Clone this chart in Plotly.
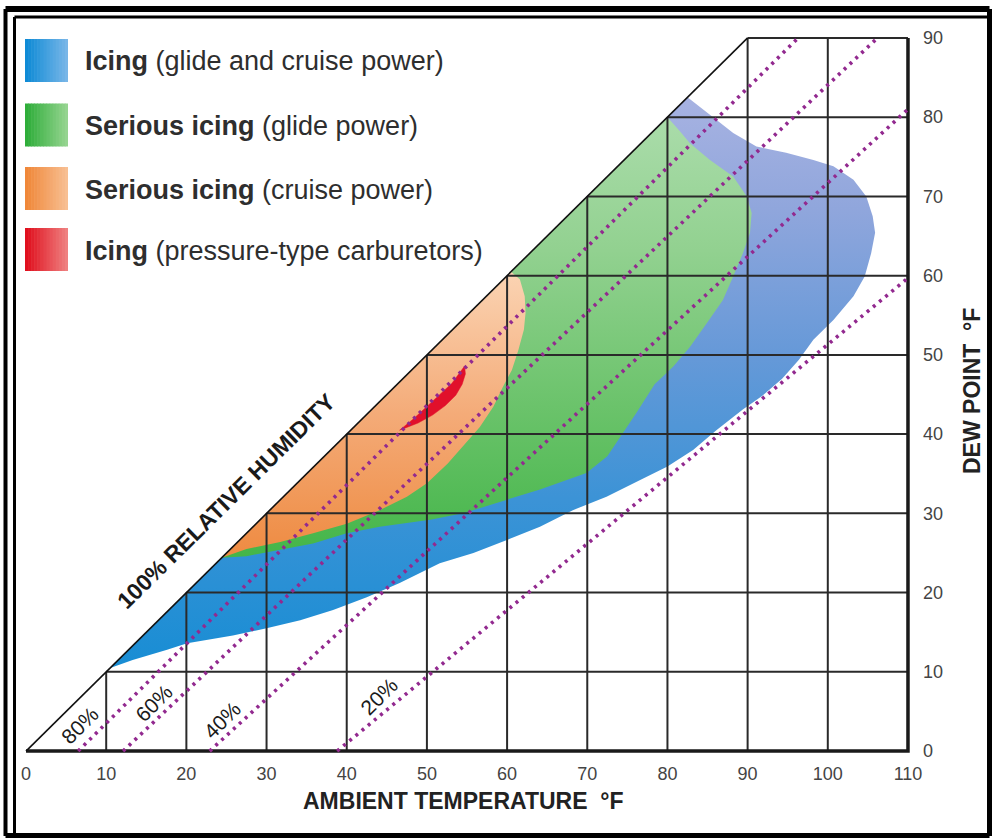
import plotly.graph_objects as go

# ---------------- data ----------------
x_ticks = list(range(0, 111, 10))
y_ticks = list(range(0, 91, 10))

# relative-humidity dotted lines (endpoints)
rh_labels = ["80%", "60%", "40%", "20%"]
rh_x = [[6.5, 96.3], [12.1, 106.2], [22.9, 110.0], [38.8, 110.0]]
rh_y = [[0.0, 90.0], [0.0, 90.0], [0.0, 81.0], [0.0, 59.7]]
rh_label_x = [6.7, 15.9, 24.4, 44.0]
rh_label_y = [3.2, 6.0, 3.9, 6.9]

# Icing (glide and cruise power)
blue_x = [10.5, 82.5, 85.3, 88.2, 91.1, 94.8, 98.2, 100.7, 103.2, 104.8, 105.6, 105.9,
          105.4, 104.6, 103.2, 100.7, 98.2, 96.4, 94.3, 91.8, 89.4, 86.1, 83.2, 80.0,
          76.6, 72.4, 68.2, 64.1, 59.9, 55.8, 51.6, 46.6, 42.5, 38.3, 34.2, 30.0, 25.8,
          20.1, 17.6, 13.3, 10.5]
blue_y = [10.5, 82.5, 80.3, 78.0, 76.3, 75.5, 74.6, 73.8, 72.1, 70.0, 67.5, 65.4,
          62.8, 59.9, 57.4, 54.4, 51.9, 49.4, 47.0, 44.8, 43.1, 40.5, 38.0, 35.9,
          34.2, 32.1, 30.4, 28.3, 26.6, 25.0, 23.7, 21.2, 19.4, 17.8, 16.5, 15.5, 14.6,
          13.6, 12.8, 11.5, 10.5]

# Serious icing (glide power)
green_x = [24.4, 80.0, 81.5, 82.8, 85.3, 88.2, 89.9, 90.5, 90.3, 89.4, 88.2, 86.9, 84.9,
           82.8, 80.7, 78.4, 76.2, 74.0, 72.5, 69.9, 64.1, 59.9, 54.5, 50.4, 44.1, 40.0,
           35.8, 31.7, 27.5, 24.4]
green_y = [24.4, 80.0, 78.3, 76.7, 74.6, 72.5, 70.0, 67.9, 65.4, 62.8, 59.9, 56.9, 54.0,
           51.0, 48.5, 46.3, 42.8, 39.5, 37.2, 35.1, 33.0, 31.7, 30.0, 29.2, 28.3, 27.5,
           26.2, 25.4, 24.6, 24.4]

# Serious icing (cruise power)
orange_x = [24.4, 60.5, 61.6, 62.2, 62.3, 62.1, 61.4, 60.6, 59.5, 58.3, 56.6, 54.7, 52.6,
            50.0, 47.5, 44.1, 40.0, 35.8, 31.7, 27.5, 24.4]
orange_y = [24.4, 60.5, 59.5, 57.4, 55.3, 53.2, 50.6, 48.1, 46.0, 43.5, 40.9, 38.7, 36.3,
            33.8, 32.1, 30.4, 28.7, 27.5, 26.4, 25.5, 24.4]

# Icing (pressure-type carburetors)
red_x = [46.6, 48.3, 49.9, 51.5, 53.1, 54.2, 54.7, 54.8, 54.4, 53.6, 52.3, 50.7, 48.9, 46.6]
red_y = [40.5, 41.9, 43.4, 44.9, 46.4, 47.9, 48.6, 47.6, 46.3, 44.9, 43.6, 42.4, 41.4, 40.5]

legend_bold = ["Icing", "Serious icing", "Serious icing", "Icing"]
legend_rest = ["(glide and cruise power)", "(glide power)", "(cruise power)",
               "(pressure-type carburetors)"]

# ---------------- layout geometry ----------------
FW, FH = 992, 839
ML, MR, MT, MB = 18, 76, 30, 80
PW, PH = FW - ML - MR, FH - MT - MB


def px(xp):
    return (xp - ML) / PW


def py(yp):
    return (FH - MB - yp) / PH


FONT = "Liberation Sans, Arial, Helvetica, sans-serif"

fig = go.Figure()

fig.add_trace(go.Scatter(
    x=blue_x, y=blue_y, mode="lines", fill="toself", line=dict(width=0),
    fillgradient=dict(type="vertical", start=10, stop=83,
                      colorscale=[[0, "#178dd4"], [0.3, "#3c93d6"], [0.55, "#6699d8"],
                                  [0.8, "#90a6dc"], [1, "#a8b3e2"]]),
    hoverinfo="skip", showlegend=False))
fig.add_trace(go.Scatter(
    x=green_x, y=green_y, mode="lines", fill="toself", line=dict(width=0),
    fillgradient=dict(type="vertical", start=24, stop=80,
                      colorscale=[[0, "#43b548"], [0.35, "#6bc36b"], [0.7, "#92d190"],
                                  [1, "#aadcaa"]]),
    hoverinfo="skip", showlegend=False))
fig.add_trace(go.Scatter(
    x=orange_x, y=orange_y, mode="lines", fill="toself", line=dict(width=0),
    fillgradient=dict(type="vertical", start=24, stop=61,
                      colorscale=[[0, "#ee8a40"], [0.5, "#f4ab78"], [1, "#fbd5b5"]]),
    hoverinfo="skip", showlegend=False))
fig.add_trace(go.Scatter(
    x=red_x, y=red_y, mode="lines", fill="toself", line=dict(width=0.5, color="#e1102b"),
    fillcolor="#e1102b", hoverinfo="skip", showlegend=False))

# grid lines (only below 100% RH line)
gx, gy = [], []
for yv in y_ticks[1:]:
    gx += [yv, x_ticks[-1], None]
    gy += [yv, yv, None]
for xv in x_ticks[1:-1]:
    gx += [xv, xv, None]
    gy += [0, min(xv, y_ticks[-1]), None]
fig.add_trace(go.Scatter(x=gx, y=gy, mode="lines", line=dict(color="#2a2a2a", width=2),
                         hoverinfo="skip", showlegend=False))
# heavy bottom and right border
fig.add_trace(go.Scatter(x=[x_ticks[0], x_ticks[-1], x_ticks[-1]],
                         y=[y_ticks[0], y_ticks[0], y_ticks[-1]], mode="lines",
                         line=dict(color="#1a1a1a", width=3.5),
                         hoverinfo="skip", showlegend=False))

# RH dotted lines
for xs, ys in zip(rh_x, rh_y):
    fig.add_trace(go.Scatter(x=xs, y=ys, mode="lines",
                             line=dict(color="#92298f", width=3.6, dash="3px,5px"),
                             hoverinfo="skip", showlegend=False))

# 100% RH diagonal
fig.add_trace(go.Scatter(x=[0, y_ticks[-1]], y=[0, y_ticks[-1]], mode="lines",
                         line=dict(color="#111111", width=1.6),
                         hoverinfo="skip", showlegend=False))

annotations = []
for lab, lx, ly in zip(rh_labels, rh_label_x, rh_label_y):
    annotations.append(dict(x=lx, y=ly, xref="x", yref="y", text=lab, showarrow=False,
                            xanchor="center", yanchor="middle",
                            textangle=-44.6, font=dict(family=FONT, size=21, color="#1a1a1a")))
annotations.append(dict(x=25.0, y=31.5, xref="x", yref="y",
                        text="<b>100% RELATIVE HUMIDITY</b>", showarrow=False,
                        xanchor="center", yanchor="middle",
                        textangle=-44.6, font=dict(family=FONT, size=23, color="#1a1a1a")))
annotations.append(dict(x=px(463), y=py(801), xref="paper", yref="paper",
                        xanchor="center", yanchor="middle",
                        text="<b>AMBIENT TEMPERATURE  °F</b>", showarrow=False,
                        font=dict(family=FONT, size=23, color="#222")))
annotations.append(dict(x=px(972), y=py(391), xref="paper", yref="paper",
                        xanchor="center", yanchor="middle",
                        text="<b>DEW POINT  °F</b>", showarrow=False, textangle=-90,
                        font=dict(family=FONT, size=23, color="#222")))

# legend (manual)
swatch_cols = [("#0f8bd6", "#78b6e8"), ("#2fae3a", "#95d490"),
               ("#f0883a", "#f8bf92"), ("#e0101e", "#ef8080")]
row_y = [60.5, 125, 188.5, 249.5]
shapes = []
NSTRIP = 14
for (c0, c1), ry in zip(swatch_cols, row_y):
    r0, g0, b0 = int(c0[1:3], 16), int(c0[3:5], 16), int(c0[5:7], 16)
    r1, g1, b1 = int(c1[1:3], 16), int(c1[3:5], 16), int(c1[5:7], 16)
    x0s, x1s = 25, 68
    for i in range(NSTRIP):
        t = i / (NSTRIP - 1)
        col = "rgb(%d,%d,%d)" % (r0 + (r1 - r0) * t, g0 + (g1 - g0) * t, b0 + (b1 - b0) * t)
        xa = x0s + (x1s - x0s) * i / NSTRIP
        xb = x0s + (x1s - x0s) * (i + 1) / NSTRIP + 0.6
        shapes.append(dict(type="rect", xref="paper", yref="paper",
                           x0=px(xa), x1=px(min(xb, x1s)), y0=py(ry - 21.5), y1=py(ry + 21.5),
                           fillcolor=col, line=dict(width=0), layer="above"))
for b, r, ry in zip(legend_bold, legend_rest, row_y):
    annotations.append(dict(x=px(83), y=py(ry + 1), xref="paper", yref="paper",
                            xanchor="left", yanchor="middle", showarrow=False,
                            text="<b>%s</b> %s" % (b, r),
                            font=dict(family=FONT, size=27, color="#2e2e2e")))

# frame
frame_lines = [
    (5.5, 9, 5.5, 836, 4), (5.5, 9, 989.5, 9, 6), (989.5, 9, 989.5, 836, 5),
    (5.5, 835.5, 989.5, 835.5, 5), (14.5, 17, 14.5, 835, 3), (14.5, 17, 989.5, 17, 3),
]
for xa, ya, xb, yb, w in frame_lines:
    shapes.append(dict(type="line", xref="paper", yref="paper", x0=px(xa), y0=py(ya),
                       x1=px(xb), y1=py(yb), line=dict(color="black", width=w)))

fig.update_layout(
    width=FW, height=FH, margin=dict(l=ML, r=MR, t=MT, b=MB),
    paper_bgcolor="white", plot_bgcolor="white",
    showlegend=False, shapes=shapes, annotations=annotations,
    xaxis=dict(range=[-1, 111], tickvals=x_ticks, showgrid=False, zeroline=False,
               showline=False, ticks="", tickfont=dict(family=FONT, size=18, color="#444"),
               ticklabelstandoff=2, fixedrange=True),
    yaxis=dict(range=[-1, 91], tickvals=y_ticks, side="right", showgrid=False,
               zeroline=False, showline=False, ticks="",
               tickfont=dict(family=FONT, size=18, color="#444"),
               ticklabelstandoff=6, fixedrange=True),
)

fig.write_html("out.html", config={"displayModeBar": False},
               post_script="document.body.style.margin='0px';")
